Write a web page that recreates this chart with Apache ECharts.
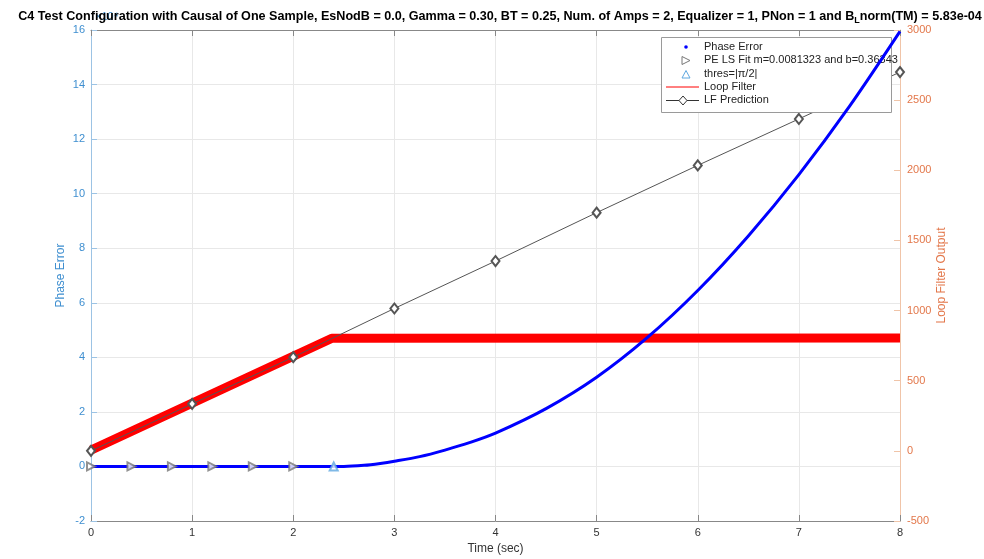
<!DOCTYPE html>
<html>
<head>
<meta charset="utf-8">
<script src="https://cdn.jsdelivr.net/npm/echarts@6/dist/echarts.min.js"></script>
<style>
  html, body { margin: 0; padding: 0; background: #fff; }
  #chart { width: 984px; height: 559px; }
</style>
</head>
<body>
<div id="chart"></div>
<script>
// phase error (left axis, x10^4)
const peTime = [0, 2.5, 2.7, 2.86, 3.0, 3.25, 3.5, 3.75, 4.0, 4.5, 5.0, 5.5, 6.0, 6.5, 7.0, 7.5, 8.0];
const peValue = [0, 0, 0.04, 0.11, 0.19, 0.36, 0.6, 0.88, 1.22, 2.12, 3.27, 4.72, 6.45, 8.45, 10.7, 13.2, 15.95];
// PE LS fit markers
const fitTime = [0, 0.4, 0.8, 1.2, 1.6, 2.0];
const fitValue = [0, 0, 0, 0, 0, 0];
// threshold marker
const thresTime = [2.4];
const thresValue = [0];
// loop filter output (right axis)
const lfTime = [0, 2.38, 8];
const lfValue = [5, 802, 805];
// LF prediction (right axis)
const predTime = [0, 1, 2, 3, 4, 5, 6, 7, 8];
const predValue = [0, 335, 668, 1015, 1353, 1698, 2035, 2366, 2700];
// ticks
const xTicks = [0, 8, 1];
const leftTicks = [-2, 16, 2];
const rightTicks = [-500, 3000, 500];

const blueLbl = '#3f8fd0', blueLine = '#9cc3e4';
const orgLbl = '#e3774a', orgLine = '#f0c4a8';
const font = 'Helvetica, "Liberation Sans", Arial, sans-serif';

const zip = (a, b) => a.map((v, i) => [v, b[i]]);

var chart = echarts.init(document.getElementById('chart'));

// legend drawn by hand to get matlab style
var lx = 661, ly = 37, rowH = 13.3;
var legendItems = [
  { type: 'rect', shape: { x: lx + 0.5, y: ly + 0.5, width: 230, height: 75 }, style: { fill: '#fff', stroke: '#9a9a9a', lineWidth: 1 } },
  { type: 'circle', shape: { cx: 686, cy: ly + 10, r: 1.8 }, style: { fill: '#0000ff' } },
  { type: 'polygon', shape: { points: [[682, ly + 19.5], [682, ly + 27.5], [690, ly + 23.5]] }, style: { fill: 'none', stroke: '#777', lineWidth: 1 } },
  { type: 'polygon', shape: { points: [[682, ly + 41], [690, ly + 41], [686, ly + 33.5]] }, style: { fill: 'none', stroke: '#5fa8e0', lineWidth: 1 } },
  { type: 'line', shape: { x1: 666, y1: ly + 50, x2: 699, y2: ly + 50 }, style: { stroke: '#ff0000', lineWidth: 1 } },
  { type: 'line', shape: { x1: 666, y1: ly + 63.5, x2: 699, y2: ly + 63.5 }, style: { stroke: '#333', lineWidth: 1 } },
  { type: 'polygon', shape: { points: [[683, ly + 59], [687, ly + 63.5], [683, ly + 68], [679, ly + 63.5]] }, style: { fill: '#fff', stroke: '#333', lineWidth: 1 } }
];
['Phase Error', 'PE LS Fit m=0.0081323 and b=0.36343', 'thres=|\u03c0/2|', 'Loop Filter', 'LF Prediction'].forEach(function (t, i) {
  legendItems.push({
    type: 'text', x: 704, y: ly + 10 + i * rowH,
    style: { text: t, fill: '#222', font: '11px ' + font, verticalAlign: 'middle' }
  });
});
legendItems.forEach(function (el, i) { el.z = 100 + i; });

chart.setOption({
  animation: false,
  backgroundColor: '#fff',
  title: {
    text: 'C4 Test Configuration with Causal of One Sample, EsNodB = 0.0, Gamma = 0.30, BT = 0.25, Num. of Amps = 2, Equalizer = 1, PNon = 1 and B{sub|L}norm(TM) = 5.83e-04',
    left: 495, top: 3, textAlign: 'center',
    textStyle: {
      fontSize: 12.6, fontWeight: 'bold', color: '#000', fontFamily: font,
      rich: { sub: { fontSize: 9, fontWeight: 'bold', color: '#000', padding: [8, 0, 0, 0], fontFamily: font } }
    }
  },
  grid: { left: 91, right: 84, top: 30, bottom: 38, containLabel: false, outerBoundsMode: 'none' },
  graphic: [
    { type: 'text', left: 95, top: 11, z: 0, style: { text: '\u00d710\u2074', fill: blueLbl, font: '11px ' + font } },
    { type: 'group', z: 100, children: legendItems }
  ],
  xAxis: [{
    type: 'value', min: xTicks[0], max: xTicks[1], interval: xTicks[2],
    name: 'Time (sec)', nameLocation: 'middle', nameGap: 22,
    nameTextStyle: { color: '#333', fontSize: 12, fontFamily: font },
    axisLine: { onZero: false, lineStyle: { color: '#888' } },
    axisTick: { inside: true, length: 6, lineStyle: { color: '#888' } },
    axisLabel: { color: '#333', fontSize: 11, margin: 6, fontFamily: font },
    splitLine: { show: true, lineStyle: { color: '#e8e8e8' } }
  }, {
    type: 'value', position: 'top', min: xTicks[0], max: xTicks[1], interval: xTicks[2],
    axisLine: { onZero: false, lineStyle: { color: '#888' } },
    axisTick: { inside: true, length: 6, lineStyle: { color: '#888' } },
    axisLabel: { show: false }, splitLine: { show: false }
  }],
  yAxis: [{
    type: 'value', min: leftTicks[0], max: leftTicks[1], interval: leftTicks[2],
    name: 'Phase Error', nameLocation: 'middle', nameGap: 24, nameMoveOverlap: false,
    nameTextStyle: { color: blueLbl, fontSize: 12, fontFamily: font },
    axisLine: { show: true, onZero: false, lineStyle: { color: blueLine } },
    axisTick: { show: true, inside: true, length: 6, lineStyle: { color: blueLine } },
    axisLabel: { color: blueLbl, fontSize: 11, margin: 6, fontFamily: font },
    splitLine: { show: true, lineStyle: { color: '#e8e8e8' } }
  }, {
    type: 'value', position: 'right', min: rightTicks[0], max: rightTicks[1], interval: rightTicks[2],
    name: 'Loop Filter Output', nameLocation: 'middle', nameGap: 36, nameMoveOverlap: false,
    nameTextStyle: { color: orgLbl, fontSize: 12, fontFamily: font },
    axisLine: { show: true, onZero: false, lineStyle: { color: orgLine } },
    axisTick: { show: true, inside: true, length: 6, lineStyle: { color: orgLine } },
    axisLabel: { color: orgLbl, fontSize: 11, margin: 7, fontFamily: font, formatter: function (v) { return String(v); } },
    splitLine: { show: false }
  }],
  series: [
    {
      name: 'Loop Filter', type: 'line', yAxisIndex: 1, z: 2,
      data: zip(lfTime, lfValue), showSymbol: false, symbol: 'none',
      lineStyle: { color: '#ff0000', width: 9 }
    },
    {
      // drawn over the legend box like in the source figure
      name: 'Phase Error', type: 'line', yAxisIndex: 0, z: 200,
      data: zip(peTime, peValue), showSymbol: false, symbol: 'none', smooth: 0.3,
      lineStyle: { color: '#0000ff', width: 3 }
    },
    {
      name: 'LF Prediction', type: 'line', yAxisIndex: 1, z: 4,
      data: zip(predTime, predValue), symbol: 'emptyDiamond', symbolSize: [8, 10],
      itemStyle: { color: '#555', borderWidth: 1 },
      lineStyle: { color: '#555', width: 1 }
    },
    {
      name: 'PE LS Fit', type: 'scatter', yAxisIndex: 0, z: 201,
      data: zip(fitTime, fitValue), symbol: 'emptyTriangle', symbolSize: 8, symbolRotate: -90,
      itemStyle: { color: '#777', borderWidth: 1 }
    },
    {
      name: 'thres', type: 'scatter', yAxisIndex: 0, z: 201,
      data: zip(thresTime, thresValue), symbol: 'emptyTriangle', symbolSize: 8,
      itemStyle: { color: '#5fa8e0', borderWidth: 1 }
    }
  ]
});
</script>
</body>
</html>
